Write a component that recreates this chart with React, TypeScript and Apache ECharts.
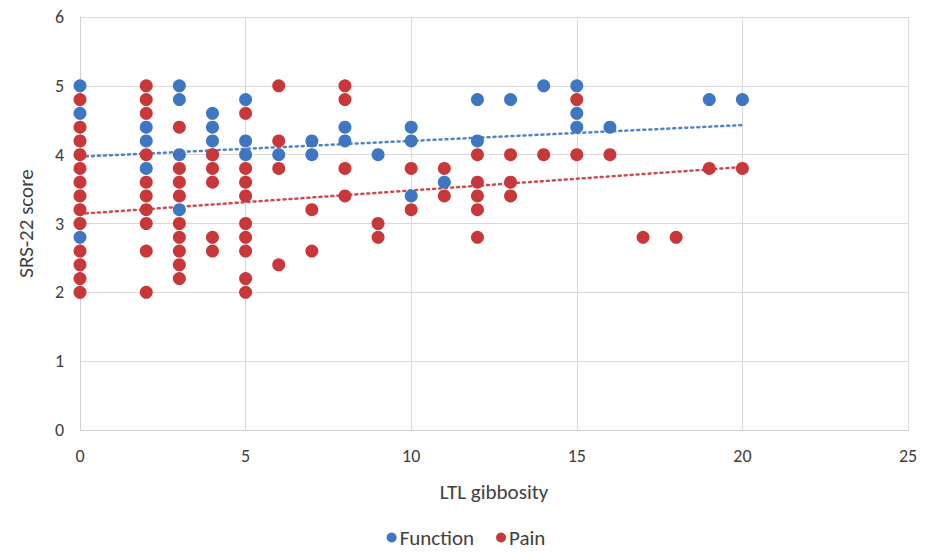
import React, { useEffect, useRef } from "react";
import * as echarts from "echarts";

// Function (blue) scatter points: [LTL gibbosity, SRS-22 score]
const functionPoints: [number, number][] = [
  [0, 5.0], [0, 4.6], [0, 2.8],
  [2, 4.4], [2, 4.2], [2, 3.8],
  [3, 5.0], [3, 4.8], [3, 4.0], [3, 3.2],
  [4, 4.6], [4, 4.4], [4, 4.2], [4, 4.0],
  [5, 4.8], [5, 4.2], [5, 4.0],
  [6, 4.0],
  [7, 4.2], [7, 4.0],
  [8, 4.4], [8, 4.2],
  [9, 4.0],
  [10, 4.4], [10, 4.2], [10, 3.4],
  [11, 3.6],
  [12, 4.8], [12, 4.2],
  [13, 4.8],
  [14, 5.0],
  [15, 5.0], [15, 4.6], [15, 4.4],
  [16, 4.4],
  [19, 4.8],
  [20, 4.8],
];

// Pain (red) scatter points
const painPoints: [number, number][] = [
  [0, 4.8], [0, 4.4], [0, 4.2], [0, 4.0], [0, 3.8], [0, 3.6], [0, 3.4], [0, 3.2], [0, 3.0], [0, 2.6], [0, 2.4], [0, 2.2], [0, 2.0],
  [2, 5.0], [2, 4.8], [2, 4.6], [2, 4.0], [2, 3.6], [2, 3.4], [2, 3.2], [2, 3.0], [2, 2.6], [2, 2.0],
  [3, 4.4], [3, 3.8], [3, 3.6], [3, 3.4], [3, 3.0], [3, 2.8], [3, 2.6], [3, 2.4], [3, 2.2],
  [4, 4.0], [4, 3.8], [4, 3.6], [4, 2.8], [4, 2.6],
  [5, 4.6], [5, 3.8], [5, 3.6], [5, 3.4], [5, 3.0], [5, 2.8], [5, 2.6], [5, 2.2], [5, 2.0],
  [6, 5.0], [6, 4.2], [6, 3.8], [6, 2.4],
  [7, 3.2], [7, 2.6],
  [8, 5.0], [8, 4.8], [8, 3.8], [8, 3.4],
  [9, 3.0], [9, 2.8],
  [10, 3.8], [10, 3.2],
  [11, 3.8], [11, 3.4],
  [12, 4.0], [12, 3.6], [12, 3.4], [12, 3.2], [12, 2.8],
  [13, 4.0], [13, 3.6], [13, 3.4],
  [14, 4.0],
  [15, 4.8], [15, 4.0],
  [16, 4.0],
  [17, 2.8],
  [18, 2.8],
  [19, 3.8],
  [20, 3.8],
];

// Linear trendline endpoints
const functionTrend: [number, number][] = [[0, 3.97], [20, 4.43]];
const painTrend: [number, number][] = [[0, 3.14], [20, 3.82]];

const xTicks = [0, 5, 10, 15, 20, 25];
const yTicks = [0, 1, 2, 3, 4, 5, 6];

const BLUE = "#3F76C2";
const RED = "#C8373A";
const FONT = "Carlito, Lato, sans-serif";

export default function App() {
  const ref = useRef<HTMLDivElement>(null);
  useEffect(() => {
    if (!ref.current) return;
    const chart = echarts.init(ref.current, undefined, { renderer: "svg" });
    chart.setOption({
      animation: false,
      backgroundColor: "#ffffff",
      textStyle: { fontFamily: FONT },
      grid: { left: 80, right: 24, top: 17, bottom: 123 },
      xAxis: {
        type: "value",
        min: xTicks[0],
        max: xTicks[xTicks.length - 1],
        interval: 5,
        name: "LTL gibbosity",
        nameLocation: "middle",
        nameGap: 51,
        nameTextStyle: { fontSize: 21, color: "#404040", fontFamily: FONT },
        axisLine: { show: true, lineStyle: { color: "#D0D0D0", width: 1 } },
        axisTick: { show: false },
        axisLabel: { fontSize: 18, color: "#404040", margin: 17, fontFamily: FONT },
        splitLine: { show: true, lineStyle: { color: "#D9D9D9", width: 1 } },
      },
      yAxis: {
        type: "value",
        min: yTicks[0],
        max: yTicks[yTicks.length - 1],
        interval: 1,
        name: "SRS-22 score",
        nameLocation: "middle",
        nameGap: 44,
        nameTextStyle: { fontSize: 21, color: "#404040", fontFamily: FONT },
        axisLine: { show: true, lineStyle: { color: "#D0D0D0", width: 1 } },
        axisTick: { show: false },
        axisLabel: { fontSize: 18, color: "#404040", margin: 16, fontFamily: FONT },
        splitLine: { show: true, lineStyle: { color: "#D9D9D9", width: 1 } },
      },
      legend: {
        data: [
          { name: "Function", icon: "circle" },
          { name: "Pain", icon: "circle" },
        ],
        bottom: 0,
        left: "center",
        itemWidth: 10,
        itemHeight: 10,
        itemGap: 22,
        textStyle: { fontSize: 21, color: "#404040", fontFamily: FONT, padding: [0, 0, 0, -2] },
      },
      series: [
        {
          name: "Function trend",
          type: "line",
          data: functionTrend,
          symbol: "none",
          z: 1,
          lineStyle: { color: BLUE, width: 2.5, type: [2, 4], cap: "round", opacity: 0.9 },
          silent: true,
        },
        {
          name: "Pain trend",
          type: "line",
          data: painTrend,
          symbol: "none",
          z: 1,
          lineStyle: { color: RED, width: 2.5, type: [2, 4], cap: "round", opacity: 0.9 },
          silent: true,
        },
        {
          name: "Function",
          type: "scatter",
          data: functionPoints,
          symbol: "circle",
          symbolSize: 13,
          z: 3,
          itemStyle: { color: BLUE, opacity: 1 },
        },
        {
          name: "Pain",
          type: "scatter",
          data: painPoints,
          symbol: "circle",
          symbolSize: 13,
          z: 4,
          itemStyle: { color: RED, opacity: 1 },
        },
      ],
    });
    return () => chart.dispose();
  }, []);
  return <div ref={ref} style={{ width: 932, height: 553, margin: -8 }} />;
}
